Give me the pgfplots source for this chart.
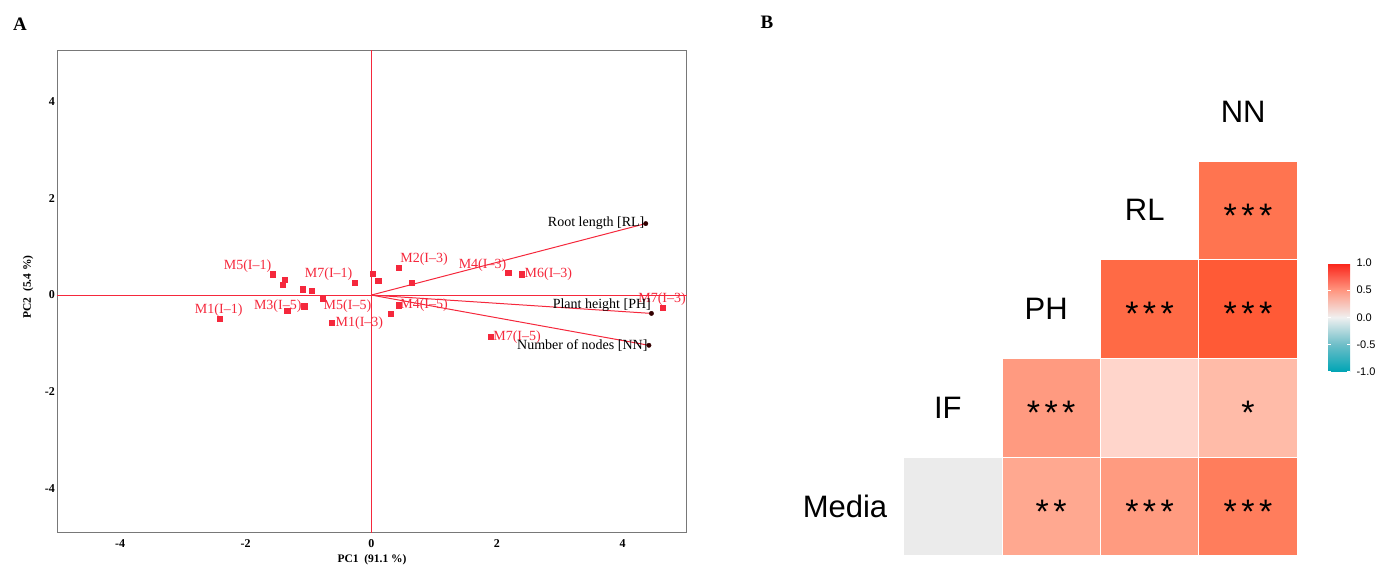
\documentclass[border=0pt]{standalone}
\usepackage{pgfplots}
\pgfplotsset{compat=1.18}
\usepackage{fontspec}
\setmainfont{Liberation Serif}
\newfontfamily\arial{Liberation Sans}
\definecolor{pcared}{RGB}{245,40,60}
\definecolor{framegray}{RGB}{120,120,120}
\definecolor{cgray}{RGB}{235,235,235}
\definecolor{cMPH}{RGB}{255,168,144}
\definecolor{cMRL}{RGB}{255,155,128}
\definecolor{cMNN}{RGB}{255,125,92}
\definecolor{cIPH}{RGB}{255,154,128}
\definecolor{cIRL}{RGB}{255,213,203}
\definecolor{cINN}{RGB}{255,187,168}
\definecolor{cPRL}{RGB}{255,106,69}
\definecolor{cPNN}{RGB}{255,90,54}
\definecolor{cRNN}{RGB}{255,116,80}
\newcommand{\st}{\kern4.5pt}
\newcommand{\cell}[4]{\addplot[fill=#3, draw=white, line width=0.8pt] coordinates {(#1-0.5,#2-0.5) (#1+0.5,#2-0.5) (#1+0.5,#2+0.5) (#1-0.5,#2+0.5)} -- cycle;
  \node[font=\arial\fontsize{34}{34}\selectfont, anchor=center, yshift=-5pt] at (axis cs:#1,#2) {#4};}
\begin{document}
\begin{tikzpicture}[x=1pt,y=1pt]
\path[use as bounding box] (0,0) rectangle (1376,567);
\node[font=\bfseries\fontsize{19}{19}\selectfont] at (20,543) {A};
\node[font=\bfseries\fontsize{19}{19}\selectfont] at (767,545) {B};

\begin{axis}[
  at={(57.3pt,34.3pt)}, anchor=south west, scale only axis,
  width=629.3pt, height=482.5pt,
  xmin=-5, xmax=5.02, ymin=-4.92, ymax=5.07,
  xtick={-4,-2,0,2,4}, ytick={-4,-2,0,2,4},
  major tick length=0pt, tick style={draw=none},
  tick label style={font=\bfseries\fontsize{12}{12}\selectfont},
  xticklabel style={yshift=-3pt},
  yticklabel style={xshift=1pt},
  /pgf/number format/assume math mode=true,
  axis line style={framegray, line width=1.3pt},
  clip=false,
]
% loading vectors
\addplot[draw=pcared, line width=1pt] coordinates {(0,0) (4.37,1.48)};
\addplot[draw=pcared, line width=1pt] coordinates {(0,0) (4.46,-0.38)};
\addplot[draw=pcared, line width=1pt] coordinates {(0,0) (4.42,-1.04)};
% zero lines
\addplot[draw=pcared, line width=1.1pt] coordinates {(-5,0) (5.02,0)};
\addplot[draw=pcared, line width=1.1pt] coordinates {(0,-4.92) (0,5.07)};
% scores
\addplot[only marks, mark=square*, mark size=2.6pt, color=pcared] coordinates {
(-1.57,0.43) (-1.38,0.31) (-1.41,0.21) (-1.09,0.12) (-0.95,0.09)
(-0.26,0.25) (0.02,0.45) (0.11,0.29) (0.43,0.56) (0.64,0.25)
(-0.78,-0.07) (-1.07,-0.23) (-1.34,-0.33) (-2.41,-0.49) (-0.63,-0.58)
(0.43,-0.21) (0.31,-0.38) (2.18,0.46) (2.40,0.43) (4.64,-0.26) (1.90,-0.87)
};
\addplot[only marks, mark=*, mark size=2.2pt, color=black!80!red] coordinates {(4.37,1.48) (4.46,-0.38) (4.42,-1.04)};
\begin{scope}[every node/.style={pcared, font=\fontsize{14}{14}\selectfont, inner sep=0pt}]
\node at (axis cs:-1.97,0.60) {M5(I--1)};
\node at (axis cs:-0.68,0.43) {M7(I--1)};
\node at (axis cs:0.84,0.74) {M2(I--3)};
\node at (axis cs:-0.38,-0.23) {M5(I--5)};
\node at (axis cs:-1.49,-0.23) {M3(I--5)};
\node at (axis cs:-2.43,-0.31) {M1(I--1)};
\node at (axis cs:-0.19,-0.58) {M1(I--3)};
\node at (axis cs:0.84,-0.21) {M4(I--5)};
\node at (axis cs:1.77,0.62) {M4(I--3)};
\node at (axis cs:2.82,0.43) {M6(I--3)};
\node at (axis cs:4.63,-0.09) {M7(I--3)};
\node at (axis cs:2.32,-0.87) {M7(I--5)};
\end{scope}
\begin{scope}[every node/.style={black, font=\fontsize{14}{14}\selectfont, inner sep=0pt}]
\node at (axis cs:3.58,1.49) {Root length [RL]};
\node at (axis cs:3.67,-0.21) {Plant height [PH]};
\node at (axis cs:3.36,-1.04) {Number of nodes [NN]};
\end{scope}
\end{axis}
\node[font=\bfseries\fontsize{11.5}{11.5}\selectfont] at (372,7) {PC1\ \ (91.1 \%)};
\node[font=\bfseries\fontsize{11.5}{11.5}\selectfont, rotate=90] at (28,280) {PC2\ \ (5.4 \%)};

\begin{axis}[
  at={(805pt,11.3pt)}, anchor=south west, scale only axis,
  width=492.3pt, height=493.4pt,
  xmin=-0.5, xmax=4.5, ymin=-0.5, ymax=4.5,
  hide axis, clip=false,
  colormap={corr}{rgb255=(0,165,181) rgb255=(110,190,200) rgb255=(240,240,240) rgb255=(255,150,128) rgb255=(250,35,25)},
  colorbar, point meta min=-1, point meta max=1,
  colorbar/width=21.7pt,
  colorbar style={at={(1.063,0.593)}, anchor=north west,
    height=108.4pt, ytick={-1,-0.5,0,0.5,1},
    yticklabel style={font=\arial\fontsize{11}{11}\selectfont, xshift=3pt,
      /pgf/number format/.cd, fixed, fixed zerofill, precision=1, assume math mode=true},
    axis line style={draw=none}, major tick length=3pt,
    tick style={white, line width=0.8pt}, tick align=inside},
]
\cell{1}{0}{cgray}{}
\cell{2}{0}{cMPH}{*\st*}
\cell{3}{0}{cMRL}{*\st*\st*}
\cell{4}{0}{cMNN}{*\st*\st*}
\cell{2}{1}{cIPH}{*\st*\st*}
\cell{3}{1}{cIRL}{}
\cell{4}{1}{cINN}{*}
\cell{3}{2}{cPRL}{*\st*\st*}
\cell{4}{2}{cPNN}{*\st*\st*}
\cell{4}{3}{cRNN}{*\st*\st*}
\begin{scope}[every node/.style={font=\arial\fontsize{31}{31}\selectfont, inner sep=0pt}]
\node at (axis cs:-0.094,0) {Media};
\node at (axis cs:0.95,1) {IF};
\node at (axis cs:1.95,2) {PH};
\node at (axis cs:2.95,3) {RL};
\node at (axis cs:3.95,4) {NN};
\end{scope}
\end{axis}
\end{tikzpicture}
\end{document}
